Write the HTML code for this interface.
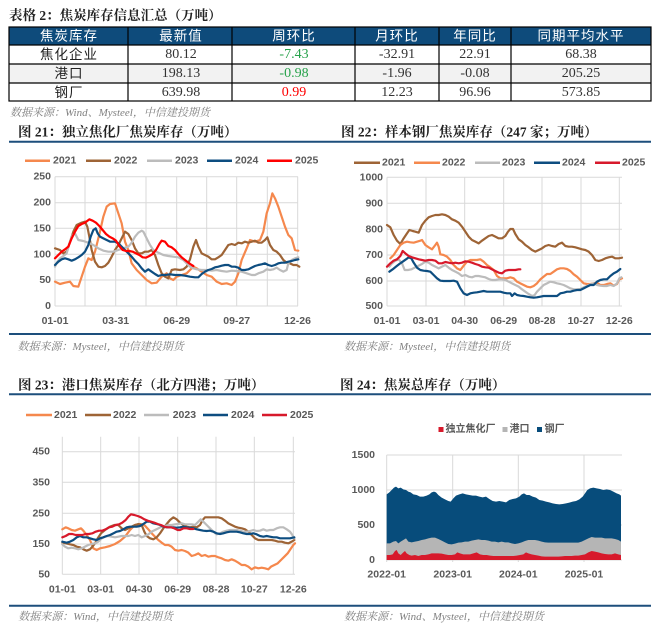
<!DOCTYPE html>
<html><head><meta charset="utf-8">
<style>
html,body{margin:0;padding:0;background:#fff;}
svg{display:block;}
.ti{font-family:"Liberation Serif","Noto Serif CJK SC",serif;font-weight:bold;font-size:13.5px;fill:#222;}
.src{font-family:"Liberation Serif","Noto Serif CJK SC",serif;font-style:italic;font-size:11px;fill:#808080;}
.ax{font-family:"Liberation Sans","Noto Sans CJK SC",sans-serif;font-weight:bold;font-size:10.5px;fill:#595959;}
.hd{font-family:"Liberation Sans","Noto Sans CJK SC",sans-serif;font-size:13.5px;fill:#fff;letter-spacing:1px;}
.rl{font-family:"Liberation Sans","Noto Sans CJK SC",sans-serif;font-size:13.5px;fill:#222;letter-spacing:1px;}
.nm{font-family:"Liberation Serif","Noto Serif CJK SC",serif;font-size:14px;fill:#333;}
.g{stroke:#d9d9d9;stroke-width:1;fill:none;}
</style></head>
<body>
<svg width="658" height="643" viewBox="0 0 658 643" xmlns="http://www.w3.org/2000/svg">

<!-- Table title -->
<text class="ti" x="9" y="15.7" dominant-baseline="central">表格 2：焦炭库存信息汇总（万吨）</text>

<!-- Table -->
<rect x="9" y="27" width="642" height="18" fill="#0e4b7b"/>
<rect x="9" y="64" width="642" height="19" fill="#f2f2f2"/>
<g stroke="#000" stroke-width="1.2" fill="none">
<rect x="9" y="27" width="642" height="74"/>
<line x1="9" y1="45" x2="651" y2="45"/>
<line x1="9" y1="64" x2="651" y2="64"/>
<line x1="9" y1="83" x2="651" y2="83"/>
<line x1="128" y1="27" x2="128" y2="101"/>
<line x1="232" y1="27" x2="232" y2="101"/>
<line x1="355" y1="27" x2="355" y2="101"/>
<line x1="439" y1="27" x2="439" y2="101"/>
<line x1="511" y1="27" x2="511" y2="101"/>
</g>
<g text-anchor="middle" dominant-baseline="central">
<text class="hd" x="69" y="36">焦炭库存</text>
<text class="hd" x="181" y="36">最新值</text>
<text class="hd" x="294" y="36">周环比</text>
<text class="hd" x="397" y="36">月环比</text>
<text class="hd" x="475" y="36">年同比</text>
<text class="hd" x="581" y="36">同期平均水平</text>

<text class="rl" x="69" y="54.5">焦化企业</text>
<text class="rl" x="69" y="73.5">港口</text>
<text class="rl" x="69" y="92.3">钢厂</text>

<text class="nm" x="181" y="54.5">80.12</text>
<text class="nm" x="181" y="73.5">198.13</text>
<text class="nm" x="181" y="92.3">639.98</text>

<text class="nm" x="294" y="54.5" style="fill:#27a24b">-7.43</text>
<text class="nm" x="294" y="73.5" style="fill:#27a24b">-0.98</text>
<text class="nm" x="294" y="92.3" style="fill:#ff0000">0.99</text>

<text class="nm" x="397" y="54.5">-32.91</text>
<text class="nm" x="397" y="73.5">-1.96</text>
<text class="nm" x="397" y="92.3">12.23</text>

<text class="nm" x="475" y="54.5">22.91</text>
<text class="nm" x="475" y="73.5">-0.08</text>
<text class="nm" x="475" y="92.3">96.96</text>

<text class="nm" x="581" y="54.5">68.38</text>
<text class="nm" x="581" y="73.5">205.25</text>
<text class="nm" x="581" y="92.3">573.85</text>
</g>
<text class="src" x="10" y="113" dominant-baseline="central">数据来源：Wind、Mysteel，中信建投期货</text>

<!-- Figure titles row 1 -->
<text class="ti" x="18" y="132" dominant-baseline="central">图 21：独立焦化厂焦炭库存（万吨）</text>
<text class="ti" x="341" y="132" dominant-baseline="central">图 22：样本钢厂焦炭库存（247 家；万吨）</text>
<line x1="9" y1="141.7" x2="651" y2="141.7" stroke="#1d4f7c" stroke-width="2"/>
<line x1="9" y1="334" x2="651" y2="334" stroke="#1d4f7c" stroke-width="2"/>
<text class="src" x="17.5" y="347" dominant-baseline="central">数据来源：Mysteel，中信建投期货</text>
<text class="src" x="344" y="347" dominant-baseline="central">数据来源：Mysteel，中信建投期货</text>

<!-- ============ Chart 21 ============ -->
<g class="g">
<line x1="55" y1="176.7" x2="298" y2="176.7"/>
<line x1="55" y1="202.7" x2="298" y2="202.7"/>
<line x1="55" y1="228.3" x2="298" y2="228.3"/>
<line x1="55" y1="254.3" x2="298" y2="254.3"/>
<line x1="55" y1="280" x2="298" y2="280"/>
<line x1="55" y1="306" x2="298" y2="306"/>
<line x1="55" y1="176.7" x2="55" y2="306"/>
<line x1="85" y1="176.7" x2="85" y2="306"/>
<line x1="115.7" y1="176.7" x2="115.7" y2="306"/>
<line x1="146" y1="176.7" x2="146" y2="306"/>
<line x1="176.7" y1="176.7" x2="176.7" y2="306"/>
<line x1="206.7" y1="176.7" x2="206.7" y2="306"/>
<line x1="236.7" y1="176.7" x2="236.7" y2="306"/>
<line x1="267.3" y1="176.7" x2="267.3" y2="306"/>
<line x1="297.7" y1="176.7" x2="297.7" y2="306"/>
</g>
<g class="ax" text-anchor="end" dominant-baseline="central">
<text x="51" y="176.7">250</text>
<text x="51" y="202.7">200</text>
<text x="51" y="228.3">150</text>
<text x="51" y="254.3">100</text>
<text x="51" y="280">50</text>
<text x="51" y="306">0</text>
</g>
<g class="ax" text-anchor="middle" dominant-baseline="central">
<text x="55" y="321">01-01</text>
<text x="115.7" y="321">03-31</text>
<text x="176.7" y="321">06-29</text>
<text x="236.7" y="321">09-27</text>
<text x="297.5" y="321">12-26</text>
</g>
<!-- legend 21 -->
<g stroke-width="2.5">
<line x1="25" y1="160.7" x2="50" y2="160.7" stroke="#f5884d"/>
<line x1="86" y1="160.7" x2="111" y2="160.7" stroke="#9e6436"/>
<line x1="147" y1="160.7" x2="172" y2="160.7" stroke="#bcbcbc"/>
<line x1="207" y1="160.7" x2="232" y2="160.7" stroke="#0d4d80"/>
<line x1="267" y1="160.7" x2="292" y2="160.7" stroke="#ff0000"/>
</g>
<g class="ax" dominant-baseline="central">
<text x="53" y="160.7">2021</text>
<text x="114" y="160.7">2022</text>
<text x="175" y="160.7">2023</text>
<text x="235" y="160.7">2024</text>
<text x="295" y="160.7">2025</text>
</g>
<g transform="translate(50 170) scale(0.333333)" fill="none" stroke-width="6.6" stroke-linejoin="round" stroke-linecap="round">
<polyline stroke="#f5884d" points="15,335 30,342 45,338 60,335 70,348 85,350 95,320 105,290 115,265 125,270 135,245 150,185 160,140 170,110 180,102 195,100 205,130 215,160 225,215 235,240 245,280 260,300 275,315 290,330 305,340 320,338 335,320 350,310 360,325 370,330 380,320 395,315 410,310 420,300 430,290 440,295 455,305 470,315 485,320 500,335 515,342 530,340 545,345 555,335 565,310 575,270 590,235 600,210 615,215 630,210 640,185 650,130 660,100 667,70 675,85 685,110 695,140 705,170 715,195 725,205 735,240 745,242"/>
<polyline stroke="#9e6436" points="15,235 30,240 40,250 50,245 60,215 70,185 80,165 95,158 105,155 112,170 118,200 125,240 135,275 145,290 155,292 165,288 175,278 185,260 195,240 205,225 215,205 225,185 235,192 245,210 255,235 265,250 275,250 285,245 295,245 305,240 315,255 325,285 335,310 345,320 355,325 365,300 375,298 390,300 400,298 410,290 420,268 430,230 438,210 445,230 455,250 465,255 475,260 485,268 495,268 505,262 515,255 525,240 535,225 545,222 555,225 565,218 575,220 585,215 595,218 605,215 615,212 625,218 635,218 645,210 652,202 660,225 670,240 680,245 690,255 700,270 710,278 720,280 730,285 740,285 748,290"/>
<polyline stroke="#bcbcbc" points="15,290 22,275 30,265 40,258 50,250 60,215 68,195 75,190 85,210 100,213 115,218 130,225 145,235 160,242 175,245 190,245 205,240 220,235 235,230 245,218 255,200 265,188 275,182 280,185 290,205 300,225 310,240 325,248 340,255 355,258 370,260 385,262 400,270 410,280 420,290 430,295 440,298 455,300 470,300 485,302 500,300 515,303 530,305 545,302 560,303 575,305 590,310 605,315 615,315 625,310 640,305 650,298 660,300 670,298 680,293 690,300 700,305 710,300 715,280 725,270 735,265 745,262"/>
<polyline stroke="#0d4d80" points="15,285 25,275 35,268 45,265 55,268 65,272 75,268 85,262 95,255 105,245 115,225 122,200 130,180 137,175 143,190 150,200 160,205 170,210 180,215 195,215 205,220 215,230 225,240 235,250 245,260 255,272 265,282 275,295 285,305 295,298 305,305 315,312 325,318 335,315 345,315 360,313 375,315 390,315 405,317 420,320 435,322 445,322 455,312 465,305 475,300 485,297 495,292 505,290 515,287 525,285 535,285 545,290 555,290 565,293 575,300 585,300 595,298 605,293 615,288 625,285 635,283 645,280 655,285 665,288 675,285 685,280 695,278 705,278 715,275 725,273 735,270 745,268"/>
<polyline stroke="#ff0000" points="15,265 25,255 35,245 45,238 55,230 65,205 75,185 85,168 95,162 105,158 118,148 128,152 138,158 148,168 158,180 168,192 178,200 188,205 198,212 208,228 218,240 228,243 238,243 248,245 258,250 268,255 278,262 288,263 298,258 308,252 318,240 328,222 335,212 345,215 355,228 365,232 375,240 385,252 395,262 405,270 415,278 425,285 430,288"/>
</g>

<!-- ============ Chart 22 ============ -->
<g class="g">
<line x1="387" y1="177.3" x2="622" y2="177.3"/>
<line x1="387" y1="203.3" x2="622" y2="203.3"/>
<line x1="387" y1="229.3" x2="622" y2="229.3"/>
<line x1="387" y1="255" x2="622" y2="255"/>
<line x1="387" y1="281" x2="622" y2="281"/>
<line x1="387" y1="306" x2="622" y2="306"/>
<line x1="387" y1="177.3" x2="387" y2="306"/>
<line x1="426" y1="177.3" x2="426" y2="306"/>
<line x1="464.7" y1="177.3" x2="464.7" y2="306"/>
<line x1="503.7" y1="177.3" x2="503.7" y2="306"/>
<line x1="542" y1="177.3" x2="542" y2="306"/>
<line x1="581" y1="177.3" x2="581" y2="306"/>
<line x1="619.3" y1="177.3" x2="619.3" y2="306"/>
</g>
<g class="ax" text-anchor="end" dominant-baseline="central">
<text x="383" y="177.3">1000</text>
<text x="383" y="203.3">900</text>
<text x="383" y="229.3">800</text>
<text x="383" y="255">700</text>
<text x="383" y="281">600</text>
<text x="383" y="306">500</text>
</g>
<g class="ax" text-anchor="middle" dominant-baseline="central">
<text x="387" y="321">01-01</text>
<text x="426" y="321">03-01</text>
<text x="464.7" y="321">04-30</text>
<text x="503.7" y="321">06-29</text>
<text x="542" y="321">08-28</text>
<text x="581" y="321">10-27</text>
<text x="619.3" y="321">12-26</text>
</g>
<g stroke-width="2.5">
<line x1="354" y1="162.7" x2="380" y2="162.7" stroke="#9e6436"/>
<line x1="414" y1="162.7" x2="440" y2="162.7" stroke="#f5884d"/>
<line x1="475" y1="162.7" x2="500" y2="162.7" stroke="#bcbcbc"/>
<line x1="534" y1="162.7" x2="560" y2="162.7" stroke="#0d4d80"/>
<line x1="595" y1="162.7" x2="620" y2="162.7" stroke="#d7192b"/>
</g>
<g class="ax" dominant-baseline="central">
<text x="382" y="162.7">2021</text>
<text x="442" y="162.7">2022</text>
<text x="502" y="162.7">2023</text>
<text x="562" y="162.7">2024</text>
<text x="622" y="162.7">2025</text>
</g>
<g transform="translate(382 170) scale(0.333333)" fill="none" stroke-width="6.6" stroke-linejoin="round" stroke-linecap="round">
<polyline stroke="#9e6436" points="15,165 25,172 35,195 45,212 55,222 65,205 75,190 82,180 92,183 100,185 110,188 120,165 130,152 140,142 150,138 160,135 170,135 180,133 190,135 200,140 210,148 220,152 230,158 240,170 250,185 260,200 270,210 280,215 290,220 300,212 310,205 320,198 330,195 340,200 350,205 360,205 370,198 378,185 385,177 393,177 400,192 410,208 420,215 430,225 440,232 450,240 460,245 470,240 480,235 490,228 500,225 510,228 520,230 530,222 540,218 550,228 560,230 570,230 580,232 590,235 600,238 610,240 620,245 630,255 640,270 650,273 660,270 670,265 680,262 690,260 700,265 710,265 720,263"/>
<polyline stroke="#f5884d" points="25,265 35,255 45,240 55,225 65,218 75,215 85,217 95,218 105,215 115,212 120,210 130,225 140,232 150,238 160,225 165,218 170,230 175,253 185,255 195,260 205,270 215,285 225,295 235,300 245,287 255,275 265,270 275,270 285,270 295,268 305,275 315,285 325,292 335,300 345,318 355,325 365,325 375,325 385,322 395,325 405,335 415,340 425,345 435,350 445,352 455,348 465,340 475,328 485,320 495,312 505,312 515,305 525,298 535,295 545,295 555,297 565,303 575,313 585,320 595,330 605,340 615,342 625,342 635,340 645,338 655,345 665,345 675,342 685,340 695,347 705,342 712,328 720,325"/>
<polyline stroke="#bcbcbc" points="22,290 30,280 40,272 50,268 60,280 68,300 78,300 88,298 98,293 108,288 120,282 130,275 140,278 150,285 160,290 170,295 180,290 190,285 200,293 210,300 220,305 230,310 240,318 250,315 260,320 270,322 280,318 290,318 300,320 310,322 320,327 330,330 340,330 350,328 360,328 370,330 380,335 390,340 400,345 410,350 420,358 430,365 440,372 450,378 458,375 465,365 475,355 485,345 495,340 505,335 515,337 525,340 535,342 545,345 555,350 565,355 575,358 585,358 595,357 605,352 615,348 625,343 635,340 645,345 655,347 665,348 675,348 685,345 695,348 705,340 712,325 718,322"/>
<polyline stroke="#0d4d80" points="22,305 32,298 42,290 52,282 62,275 72,268 80,262 88,265 95,278 105,293 115,300 125,302 135,303 145,305 155,315 165,325 175,332 185,333 195,333 205,333 215,332 225,335 235,355 245,370 255,375 265,370 275,368 285,367 295,365 305,363 315,365 325,365 335,365 345,365 355,365 365,368 375,370 385,370 390,378 398,370 405,375 415,377 425,378 435,380 445,382 455,383 465,382 475,380 485,378 495,378 505,378 515,378 525,378 535,370 545,368 555,365 565,365 575,362 585,360 595,360 605,355 615,350 625,345 635,345 645,335 655,330 665,328 675,328 685,318 695,310 705,305 715,297"/>
<polyline stroke="#d7192b" points="15,290 25,280 35,272 45,268 55,258 62,243 70,250 80,258 90,262 100,265 110,268 120,270 130,272 140,270 150,270 160,272 170,280 180,280 190,276 200,278 210,280 220,278 230,280 240,278 250,274 260,275 270,278 280,282 290,285 300,290 310,292 320,293 330,298 340,303 350,308 360,310 370,302 380,300 390,300 400,300 410,298 415,298"/>
</g>

<!-- Figure titles row 2 -->
<text class="ti" x="18" y="385" dominant-baseline="central">图 23：港口焦炭库存（北方四港；万吨）</text>
<text class="ti" x="340" y="385" dominant-baseline="central">图 24：焦炭总库存（万吨）</text>
<line x1="9" y1="394.3" x2="651" y2="394.3" stroke="#1d4f7c" stroke-width="2"/>
<line x1="9" y1="605.7" x2="651" y2="605.7" stroke="#1d4f7c" stroke-width="2"/>
<text class="src" x="18.3" y="617" dominant-baseline="central">数据来源：Wind，中信建投期货</text>
<text class="src" x="344" y="617" dominant-baseline="central">数据来源：Wind、Mysteel，中信建投期货</text>

<!-- ============ Chart 23 ============ -->
<g class="g">
<line x1="62.3" y1="451.7" x2="295" y2="451.7"/>
<line x1="62.3" y1="482.3" x2="295" y2="482.3"/>
<line x1="62.3" y1="513.3" x2="295" y2="513.3"/>
<line x1="62.3" y1="544" x2="295" y2="544"/>
<line x1="62.3" y1="574.3" x2="295" y2="574.3"/>
<line x1="62.3" y1="436.7" x2="62.3" y2="574.3"/>
<line x1="100.7" y1="436.7" x2="100.7" y2="574.3"/>
<line x1="139" y1="436.7" x2="139" y2="574.3"/>
<line x1="177.7" y1="436.7" x2="177.7" y2="574.3"/>
<line x1="216" y1="436.7" x2="216" y2="574.3"/>
<line x1="254.3" y1="436.7" x2="254.3" y2="574.3"/>
<line x1="293.3" y1="436.7" x2="293.3" y2="574.3"/>
</g>
<g class="ax" text-anchor="end" dominant-baseline="central">
<text x="50" y="451.7">450</text>
<text x="50" y="482.3">350</text>
<text x="50" y="513.3">250</text>
<text x="50" y="544">150</text>
<text x="50" y="574.3">50</text>
</g>
<g class="ax" text-anchor="middle" dominant-baseline="central">
<text x="62.3" y="589.3">01-01</text>
<text x="100.7" y="589.3">03-01</text>
<text x="139" y="589.3">04-30</text>
<text x="177.7" y="589.3">06-29</text>
<text x="216" y="589.3">08-28</text>
<text x="254.3" y="589.3">10-27</text>
<text x="293.3" y="589.3">12-26</text>
</g>
<g stroke-width="2.5">
<line x1="26" y1="415" x2="52" y2="415" stroke="#f5884d"/>
<line x1="85" y1="415" x2="111" y2="415" stroke="#9e6436"/>
<line x1="144" y1="415" x2="169" y2="415" stroke="#bcbcbc"/>
<line x1="203" y1="415" x2="228" y2="415" stroke="#0d4d80"/>
<line x1="262" y1="415" x2="287" y2="415" stroke="#d7192b"/>
</g>
<g class="ax" dominant-baseline="central">
<text x="54" y="415">2021</text>
<text x="113" y="415">2022</text>
<text x="172.7" y="415">2023</text>
<text x="231" y="415">2024</text>
<text x="290" y="415">2025</text>
</g>
<g transform="translate(55 430) scale(0.333333)" fill="none" stroke-width="6.6" stroke-linejoin="round" stroke-linecap="round">
<polyline stroke="#f5884d" points="22,298 32,292 40,295 50,300 60,302 70,298 78,295 85,302 95,315 105,330 115,355 125,360 135,355 150,352 165,348 180,342 195,333 210,320 225,300 240,285 255,282 268,285 280,298 290,310 300,320 310,330 320,338 330,345 340,345 350,350 360,360 370,362 380,360 390,363 400,368 410,378 420,375 430,370 440,378 450,375 460,380 470,378 480,378 490,382 500,385 510,390 520,392 530,388 540,392 550,398 560,405 570,405 580,410 590,418 600,412 610,415 620,413 630,415 640,418 648,410 658,405 668,400 678,390 688,380 698,370 708,355 715,345 720,340"/>
<polyline stroke="#9e6436" points="22,338 32,340 45,343 55,345 65,350 75,352 85,358 95,362 105,358 112,350 120,340 128,325 138,310 150,300 165,290 178,285 190,285 200,295 210,300 220,295 230,290 240,285 250,282 260,285 268,305 275,318 285,325 295,328 305,322 315,310 325,295 335,282 345,270 355,262 365,268 375,278 385,285 395,290 405,292 415,290 425,292 435,285 443,270 450,262 460,262 470,262 480,262 490,262 500,265 510,272 520,280 530,285 540,290 550,293 560,295 570,298 580,305 590,315 600,325 610,330 620,330 630,330 640,330 650,330 660,332 670,335 680,335 690,338 700,340 710,335 718,330"/>
<polyline stroke="#bcbcbc" points="22,343 30,350 40,355 50,353 60,355 70,358 80,355 90,350 100,345 110,342 120,340 130,335 140,325 150,320 160,318 170,320 180,322 190,320 200,318 210,318 220,318 230,315 240,318 250,315 260,322 270,318 280,313 290,305 300,300 310,295 320,290 330,288 340,285 350,285 360,283 370,282 380,280 390,283 400,283 410,283 420,285 430,275 437,268 445,275 455,285 465,295 475,305 485,313 495,310 505,305 515,302 525,300 535,300 545,300 555,302 565,305 575,305 585,303 595,300 605,303 615,302 625,298 635,302 645,300 655,300 665,295 675,292 685,292 695,298 705,305 712,315 718,325"/>
<polyline stroke="#0d4d80" points="22,335 35,338 45,335 55,330 65,322 75,318 85,322 95,322 105,325 115,328 125,330 135,325 145,322 155,318 165,315 175,310 185,305 195,303 205,298 215,292 225,290 235,290 245,290 255,288 265,282 275,275 285,275 295,280 305,282 315,285 325,290 335,292 345,292 355,292 365,293 375,292 385,290 395,292 405,293 415,295 425,298 435,300 445,302 455,303 465,302 475,305 485,310 495,312 505,310 515,307 525,305 535,305 545,305 555,307 565,310 575,312 585,312 595,310 605,313 615,318 625,320 635,318 645,320 655,322 665,322 675,325 685,325 695,325 705,325 718,322"/>
<polyline stroke="#d7192b" points="22,322 32,318 42,312 52,312 62,315 72,315 82,315 92,312 102,312 112,310 122,305 132,302 142,302 152,298 162,292 172,290 182,285 192,283 202,278 212,270 220,260 228,253 238,255 248,258 258,262 268,268 278,272 288,275 298,278 308,282 318,285 328,290 338,292 348,292 358,295 368,300 375,300 385,295 395,295 405,297 415,297"/>
</g>

<!-- ============ Chart 24 ============ -->
<g class="g">
<line x1="386.7" y1="455" x2="622" y2="455"/>
<line x1="386.7" y1="490" x2="622" y2="490"/>
<line x1="386.7" y1="525" x2="622" y2="525"/>
<line x1="386.7" y1="560" x2="622" y2="560"/>
<line x1="386.7" y1="455" x2="386.7" y2="562"/>
<line x1="452.7" y1="455" x2="452.7" y2="562"/>
<line x1="518.3" y1="455" x2="518.3" y2="562"/>
<line x1="584" y1="455" x2="584" y2="562"/>
</g>
<g transform="translate(380 445) scale(0.333333)" stroke="none">
<polygon fill="#074c7b" points="20,148 28,142 35,135 42,128 48,125 55,130 62,128 70,133 78,135 85,140 92,142 100,148 110,150 120,155 130,155 140,152 148,148 155,142 162,140 168,142 175,150 185,158 195,163 205,168 212,170 220,160 228,152 238,148 248,145 258,148 268,150 278,152 288,152 298,155 308,157 318,155 328,162 338,168 348,170 358,168 368,170 378,172 388,165 398,162 408,160 418,155 425,148 432,145 440,150 448,150 458,155 468,158 478,165 488,167 498,170 508,172 518,175 528,177 538,178 548,177 558,175 568,173 578,170 588,168 598,163 608,155 615,145 622,135 630,130 640,128 650,130 660,132 670,135 680,133 690,135 700,140 710,145 718,148 723,152 723,345 20,345"/>
<polygon fill="#b5b5b5" points="20,295 30,295 40,290 48,288 55,295 62,290 70,285 78,280 85,290 95,292 105,290 115,288 125,285 135,283 145,280 155,278 165,278 175,282 185,287 195,292 205,297 215,298 225,296 235,293 245,292 255,290 265,290 275,287 285,285 295,283 305,285 315,285 325,287 335,290 345,290 355,292 365,290 375,292 385,292 395,295 405,297 415,295 425,292 435,288 445,285 455,285 465,285 475,287 485,290 495,292 505,293 515,293 525,293 535,293 545,293 555,293 565,293 575,293 585,293 595,293 605,290 615,285 625,280 635,276 645,278 655,278 665,278 675,280 685,280 695,280 705,282 715,285 723,290 723,345 20,345"/>
<polygon fill="#d7192b" points="20,330 30,330 38,328 45,318 50,315 55,325 62,330 70,322 75,318 80,325 88,330 95,332 105,330 115,333 125,330 135,330 145,328 155,325 165,325 175,325 185,326 195,328 205,330 215,330 225,328 232,322 240,325 250,328 260,328 270,328 280,325 290,322 300,328 310,330 320,330 330,332 340,333 350,333 360,333 370,333 380,333 390,333 400,333 410,332 420,330 430,328 438,322 445,325 455,328 465,330 475,332 485,334 495,335 505,335 515,335 525,335 535,335 545,334 555,333 565,333 575,333 585,332 595,332 605,330 615,328 625,322 635,318 645,320 655,322 665,325 675,327 685,328 695,328 705,325 715,328 723,330 723,345 20,345"/>
</g>
<g class="ax" text-anchor="end" dominant-baseline="central">
<text x="375" y="455">1500</text>
<text x="375" y="490">1000</text>
<text x="375" y="525">500</text>
<text x="375" y="560">0</text>
</g>
<g class="ax" text-anchor="middle" dominant-baseline="central">
<text x="386.7" y="574.3">2022-01</text>
<text x="452.7" y="574.3">2023-01</text>
<text x="518.3" y="574.3">2024-01</text>
<text x="584" y="574.3">2025-01</text>
</g>
<rect x="438.5" y="427" width="5" height="5" fill="#d7192b"/>
<rect x="502.5" y="427" width="5" height="5" fill="#b5b5b5"/>
<rect x="537" y="427" width="5" height="5" fill="#074c7b"/>
<g class="ax" dominant-baseline="central" style="font-size:10px">
<text x="445.5" y="429.5">独立焦化厂</text>
<text x="509.5" y="429.5">港口</text>
<text x="544.5" y="429.5">钢厂</text>
</g>

</svg>
</body></html>
